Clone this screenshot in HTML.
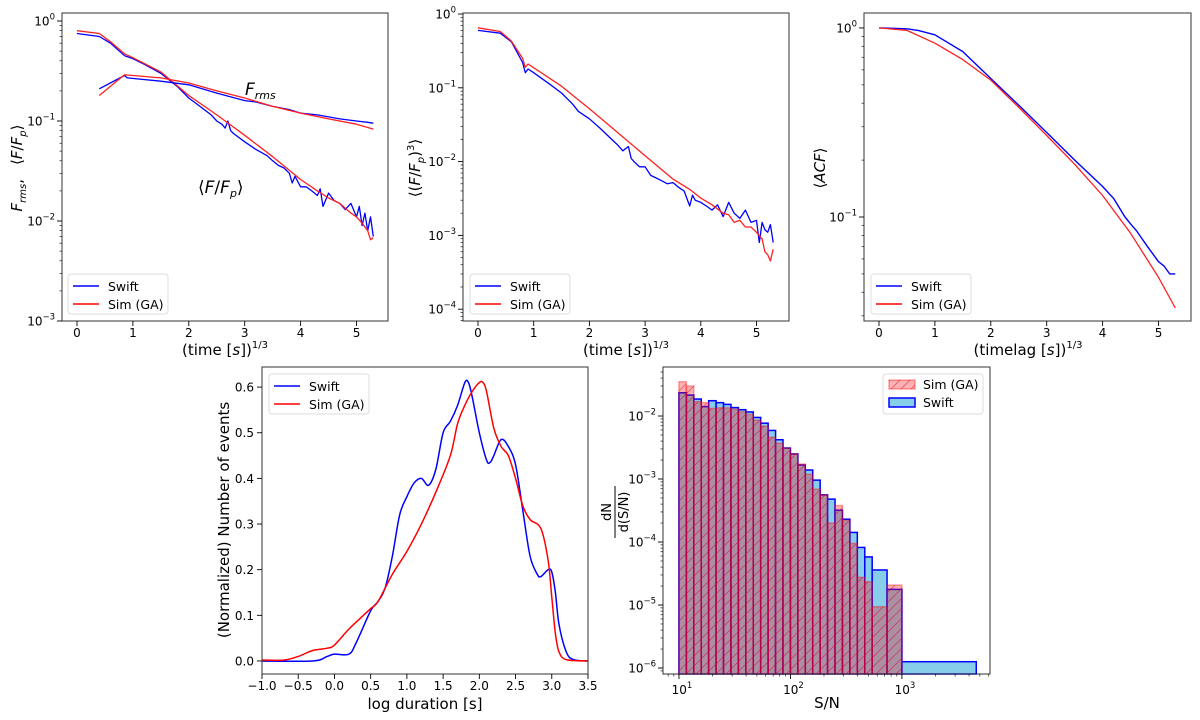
<!DOCTYPE html>
<html><head><meta charset="utf-8"><style>
html,body{margin:0;padding:0;background:#fff;}
svg{display:block;font-family:"DejaVu Sans","Liberation Sans",sans-serif;}
</style></head><body>
<svg id="fig" width="1200" height="720" viewBox="0 0 1200 720">
<defs>
<pattern id="hatch" width="10" height="10" patternUnits="userSpaceOnUse">
<path d="M-2,2 L2,-2 M0,10 L10,0 M8,12 L12,8" stroke="rgba(220,0,40,0.55)" stroke-width="0.8"/>
</pattern>
</defs>
</svg>
<script>
// ---------- Panel 1 data ----------
const p1SwiftX=[0,0.4,0.6,0.85,1.0,1.2,1.5,1.8,2.0,2.2,2.4,2.5,2.6,2.65,2.7,2.75,2.8,3.0,3.2,3.4,3.5,3.6,3.7,3.8,3.85,3.9,4.0,4.1,4.2,4.3,4.35,4.4,4.5,4.6,4.7,4.8,4.9,5.0,5.05,5.1,5.15,5.2,5.25,5.3];
const p1SwiftY=[.75,.70,.60,.45,.42,.37,.30,.22,.17,.14,.115,.10,.092,.085,.10,.08,.075,.062,.052,.045,.04,.036,.034,.03,.024,.028,.022,.022,.02,.018,.021,.014,.019,.016,.015,.013,.015,.011,.014,.009,.012,.008,.011,.007];
const p1SimX=[0,0.4,0.6,0.85,1.0,1.5,2.0,2.5,3.0,3.5,4.0,4.3,4.5,4.7,4.9,5.0,5.1,5.2,5.25,5.3];
const p1SimY=[.80,.75,.62,.47,.43,.31,.18,.115,.072,.044,.026,.02,.017,.015,.012,.011,.0095,.008,.0065,.0068];
const p1RmsSwiftX=[0.4,0.85,0.9,1.5,2.0,2.5,3.0,3.2,3.5,3.8,4.0,4.3,4.5,4.7,5.0,5.2,5.3];
const p1RmsSwiftY=[.21,.285,.27,.25,.23,.19,.16,.155,.14,.13,.12,.115,.11,.105,.10,.097,.095];
const p1RmsSimX=[0.4,0.85,1.0,1.5,2.0,2.5,3.0,3.5,4.0,4.5,5.0,5.3];
const p1RmsSimY=[.18,.29,.285,.27,.24,.20,.17,.14,.12,.105,.093,.083];
// ---------- Panel 2 data ----------
const p2SwiftX=[0,0.4,0.6,0.8,0.85,0.9,1.0,1.3,1.5,1.7,1.8,2.0,2.2,2.4,2.5,2.6,2.7,2.75,2.8,2.9,3.0,3.1,3.2,3.3,3.4,3.5,3.6,3.7,3.8,3.85,3.9,4.0,4.1,4.2,4.3,4.4,4.5,4.6,4.7,4.8,4.9,5.0,5.05,5.1,5.15,5.2,5.25,5.3];
const p2SwiftY=[.6,.55,.42,.22,.16,.18,.16,.11,.085,.06,.048,.038,.028,.02,.017,.014,.016,.011,.01,.0085,.0085,.0065,.006,.0055,.005,.0052,.0045,.004,.0025,.0035,.003,.0028,.0025,.0022,.0026,.0018,.0028,.002,.0017,.0022,.0015,.0016,.0008,.0015,.0012,.0011,.0014,.0008];
const p2SimX=[0,0.4,0.6,0.8,0.85,0.9,1.5,2.0,2.5,3.0,3.5,3.8,4.0,4.2,4.4,4.5,4.6,4.7,4.8,4.9,5.0,5.1,5.15,5.2,5.25,5.3];
const p2SimY=[.65,.58,.43,.25,.19,.21,.105,.052,.025,.012,.0058,.0042,.0032,.0026,.002,.0019,.0015,.0016,.0013,.0013,.0011,.0009,.0006,.00055,.00045,.00065];
// ---------- Panel 3 data ----------
const p3SwiftX=[0,0.5,0.7,1.0,1.5,2.0,2.5,3.0,3.5,4.0,4.2,4.4,4.5,4.6,4.8,5.0,5.1,5.2,5.3];
const p3SwiftY=[1,.99,.97,.92,.75,.54,.39,.28,.20,.145,.125,.10,.092,.085,.07,.058,.055,.05,.05];
const p3SimX=[0,0.5,1.0,1.5,2.0,2.5,3.0,3.5,4.0,4.5,5.0,5.3];
const p3SimY=[1,.97,.83,.68,.53,.38,.27,.19,.13,.082,.048,.033];
// ---------- Panel 4 data ----------
const p4SwiftX=[-1,-0.3,-0.1,0,0.2,0.3,0.5,0.6,0.7,0.8,0.9,1.0,1.1,1.2,1.3,1.4,1.5,1.6,1.7,1.8,1.85,1.9,2.0,2.1,2.15,2.2,2.3,2.4,2.5,2.6,2.7,2.8,2.85,2.95,3.0,3.05,3.1,3.2,3.3,3.5];
const p4SwiftY=[0,0,0.01,0.015,0.015,0.04,0.11,0.13,0.16,0.23,0.32,0.36,0.39,0.40,0.385,0.42,0.50,0.525,0.56,0.61,0.61,0.58,0.50,0.44,0.435,0.45,0.485,0.47,0.43,0.33,0.23,0.19,0.185,0.20,0.195,0.15,0.08,0.02,0.003,0];
const p4SimX=[-1,-0.7,-0.5,-0.3,-0.1,0,0.2,0.4,0.5,0.6,0.8,1.0,1.2,1.4,1.6,1.7,1.8,1.9,2.0,2.05,2.1,2.2,2.3,2.4,2.5,2.6,2.7,2.85,2.95,3.0,3.05,3.1,3.2,3.5];
const p4SimY=[0.002,0.002,0.01,0.023,0.028,0.035,0.07,0.10,0.115,0.13,0.19,0.24,0.30,0.37,0.45,0.52,0.56,0.59,0.61,0.61,0.59,0.51,0.47,0.45,0.40,0.34,0.31,0.29,0.22,0.14,0.06,0.02,0.003,0];
// ---------- Panel 5 data ----------
const p5BinEdgesLog=[1,1.0667,1.1333,1.2,1.2667,1.3333,1.4,1.4667,1.5333,1.6,1.6667,1.7333,1.8,1.8667,1.9333,2,2.0667,2.1333,2.2,2.2667,2.3333,2.4,2.4667,2.5333,2.6,2.6667,2.7333,2.8667,3.0,3.667];
const p5Swift=[0.0234,0.0215,0.0186,0.0141,0.0175,0.0163,0.0153,0.0136,0.0126,0.0116,0.0095,0.0077,0.0059,0.0042,0.0031,0.0025,0.00167,0.00139,0.00096,0.00056,0.00048,0.00032,0.00023,0.000142,0.000082,0.000058,0.000036,0.0000177,0.00000126];
const p5Sim=[0.035,0.030,0.0169,0.0163,0.0132,0.0135,0.0135,0.0128,0.0117,0.0106,0.0086,0.0069,0.0046,0.0037,0.0031,0.0025,0.00173,0.00119,0.00069,0.00056,0.0002,0.00038,0.00022,0.000095,0.0000275,0.0000234,0.0000094,0.0000207];

const NS='http://www.w3.org/2000/svg';
const fig=document.getElementById('fig');
function mk(tag,attrs,parent){const e=document.createElementNS(NS,tag);for(const k in attrs)e.setAttribute(k,attrs[k]);(parent||fig).appendChild(e);return e;}
function makeAxis(c){
  const a=Object.assign({},c);
  a.sx=v=>{const t=a.xlog?Math.log10(v):v;return a.x0+(t-a.xmin)/(a.xmax-a.xmin)*(a.x1-a.x0);};
  a.sy=v=>{const t=a.ylog?Math.log10(v):v;return a.y1-(t-a.ymin)/(a.ymax-a.ymin)*(a.y1-a.y0);};
  a.g=mk('g',{});
  
  
  return a;
}
function frame(a){
  const r=mk('rect',{x:a.x0,y:a.y0,width:a.x1-a.x0,height:a.y1-a.y0,fill:'none',stroke:'#333','stroke-width':1},a.g);
  
  
}
function powLabel(parent,x,y,exp,anchor,name){
  const t=mk('text',{x:x,y:y,'font-size':12,'text-anchor':anchor,fill:'#000'},parent);
  
  
  const b=mk('tspan',{},t);b.textContent='10';
  const s=mk('tspan',{dy:-6,'font-size':8.5},t);s.textContent=(exp<0?'\u2212':'')+Math.abs(exp);
  return t;
}
function xTicksLin(a,vals,labels){
  vals.forEach((v,i)=>{const x=a.sx(v);
    const l=mk('line',{x1:x,x2:x,y1:a.y1,y2:a.y1+5,stroke:'#000','stroke-width':0.9},a.g);
    
    
    const t=mk('text',{x:x,y:a.y1+16,'font-size':12,'text-anchor':'middle'},a.g);
    
    
    t.textContent=labels[i];});
}
function yTicksLin(a,vals,labels){
  vals.forEach((v,i)=>{const y=a.sy(v);
    const l=mk('line',{x1:a.x0-5,x2:a.x0,y1:y,y2:y,stroke:'#000','stroke-width':0.9},a.g);
    
    
    const t=mk('text',{x:a.x0-8,y:y+4.5,'font-size':12,'text-anchor':'end'},a.g);
    
    
    t.textContent=labels[i];});
}
function yTicksLog(a,exps){
  const lo=Math.floor(a.ymin),hi=Math.ceil(a.ymax);
  for(let e=lo;e<=hi;e++){for(let m=1;m<10;m++){const lv=e+Math.log10(m);if(lv<a.ymin||lv>a.ymax)continue;const y=a.sy(Math.pow(10,lv));
    const l=mk('line',{x1:a.x0-(m==1?5:2.5),x2:a.x0,y1:y,y2:y,stroke:'#000','stroke-width':m==1?0.9:0.6},a.g);
    
    }}
  exps.forEach(e=>{powLabel(a.g,a.x0-7,a.sy(Math.pow(10,e))+4.5,e,'end','y-tick-label');});
}
function xTicksLog(a,exps){
  const lo=Math.floor(a.xmin),hi=Math.ceil(a.xmax);
  for(let e=lo;e<=hi;e++){for(let m=1;m<10;m++){const lv=e+Math.log10(m);if(lv<a.xmin||lv>a.xmax)continue;const x=a.sx(Math.pow(10,lv));
    const l=mk('line',{x1:x,x2:x,y1:a.y1,y2:a.y1+(m==1?5:2.5),stroke:'#000','stroke-width':m==1?0.9:0.6},a.g);
    
    }}
  exps.forEach(e=>{powLabel(a.g,a.sx(Math.pow(10,e))+3,a.y1+20,e,'middle','x-tick-label');});
}
function polyline(a,xs,ys,color,name,w){
  const pts=xs.map((x,i)=>a.sx(x).toFixed(1)+','+a.sy(ys[i]).toFixed(1)).join(' ');
  const p=mk('polyline',{points:pts,fill:'none',stroke:color,'stroke-width':w||1.3,'stroke-linejoin':'round'},a.g);
  
  
}
function smooth(a,xs,ys,color,name){
  const P=xs.map((x,i)=>[a.sx(x),a.sy(ys[i])]);
  let d='M'+P[0][0]+','+P[0][1];
  for(let i=0;i<P.length-1;i++){const p0=P[Math.max(0,i-1)],p1=P[i],p2=P[i+1],p3=P[Math.min(P.length-1,i+2)];
    const c1=[p1[0]+(p2[0]-p0[0])/6,p1[1]+(p2[1]-p0[1])/6],c2=[p2[0]-(p3[0]-p1[0])/6,p2[1]-(p3[1]-p1[1])/6];
    d+=' C'+c1.join(',')+' '+c2.join(',')+' '+p2.join(',');}
  const p=mk('path',{d:d,fill:'none',stroke:color,'stroke-width':1.5},a.g);
  
  
}
function lineLegend(a,x,y,name){
  const g=mk('g',{},a.g);
  
  
  mk('rect',{x:x,y:y,width:100,height:40,rx:3,fill:'#fff',stroke:'#ddd','stroke-width':1},g);
  [['Swift','#0000ff'],['Sim (GA)','#ff0000']].forEach((s,i)=>{
    const yy=y+12+i*18;
    const l=mk('line',{x1:x+5,x2:x+31,y1:yy,y2:yy,stroke:s[1],'stroke-width':1.6},g);
    
    
    const t=mk('text',{x:x+40,y:yy+5,'font-size':12.5},g);
    
    
    t.textContent=s[0];});
}
function rotText(x,y,html,name,size){
  const t=mk('text',{x:0,y:0,'font-size':size||15,'text-anchor':'middle',transform:'translate('+x+','+y+') rotate(-90)'});
  
  
  t.innerHTML=html;return t;
}
function text(x,y,html,name,size,anchor){
  const t=mk('text',{x:x,y:y,'font-size':size||15,'text-anchor':anchor||'middle'});
  
  
  t.innerHTML=html;return t;
}
const tlbl='(time [<tspan font-style="italic">s</tspan>])<tspan dy="-7" font-size="10">1/3</tspan>';

// Panel 1
const a1=makeAxis({name:'panel-flux',x0:62,x1:388,y0:13,y1:321,xmin:-0.268,xmax:5.563,ymin:-3.0,ymax:0.08,ylog:true});
polyline(a1,p1SwiftX,p1SwiftY,'#0000ff','swift-mean-flux');
polyline(a1,p1SimX,p1SimY,'#ff2020','sim-mean-flux');
polyline(a1,p1RmsSwiftX,p1RmsSwiftY,'#0000ff','swift-frms');
polyline(a1,p1RmsSimX,p1RmsSimY,'#ff2020','sim-frms');
frame(a1);
xTicksLin(a1,[0,1,2,3,4,5],['0','1','2','3','4','5']);
yTicksLog(a1,[0,-1,-2,-3]);
lineLegend(a1,68,274,'legend-panel-flux');
text(245,95,'<tspan font-style="italic">F</tspan><tspan font-style="italic" font-size="11" dy="4">rms</tspan>','annotation-frms',17,'start');
text(198,193,'⟨<tspan font-style="italic">F</tspan>/<tspan font-style="italic">F</tspan><tspan font-style="italic" font-size="11" dy="4">p</tspan><tspan dy="-4">⟩</tspan>','annotation-mean-flux',17,'start');
rotText(22,168,'<tspan font-style="italic">F</tspan><tspan font-style="italic" font-size="10" dy="4">rms</tspan><tspan dy="-4">,</tspan><tspan dx="14">⟨</tspan><tspan font-style="italic">F</tspan>/<tspan font-style="italic">F</tspan><tspan font-style="italic" font-size="10" dy="4">p</tspan><tspan dy="-4">⟩</tspan>','y-axis-title-flux',15);
text(225,355,tlbl,'x-axis-title-flux',15);

// Panel 2
const a2=makeAxis({name:'panel-cube-flux',x0:463,x1:789,y0:13,y1:321,xmin:-0.269,xmax:5.583,ymin:-4.16,ymax:0.0136,ylog:true});
polyline(a2,p2SwiftX,p2SwiftY,'#0000ff','swift-cube-flux');
polyline(a2,p2SimX,p2SimY,'#ff2020','sim-cube-flux');
frame(a2);
xTicksLin(a2,[0,1,2,3,4,5],['0','1','2','3','4','5']);
yTicksLog(a2,[0,-1,-2,-3,-4]);
lineLegend(a2,470,274,'legend-panel-cube-flux');
rotText(420,168,'⟨(<tspan font-style="italic">F</tspan>/<tspan font-style="italic">F</tspan><tspan font-style="italic" font-size="10" dy="4">p</tspan><tspan dy="-4">)</tspan><tspan font-size="10" dy="-6">3</tspan><tspan dy="6">⟩</tspan>','y-axis-title-cube-flux',15);
text(626,355,tlbl,'x-axis-title-cube-flux',15);

// Panel 3
const a3=makeAxis({name:'panel-acf',x0:864,x1:1191,y0:13,y1:321,xmin:-0.268,xmax:5.581,ymin:-1.55,ymax:0.079,ylog:true});
polyline(a3,p3SwiftX,p3SwiftY,'#0000ff','swift-acf',1.4);
polyline(a3,p3SimX,p3SimY,'#ff2020','sim-acf');
frame(a3);
xTicksLin(a3,[0,1,2,3,4,5],['0','1','2','3','4','5']);
yTicksLog(a3,[0,-1]);
lineLegend(a3,871,274,'legend-panel-acf');
rotText(825,168,'⟨<tspan font-style="italic">ACF</tspan>⟩','y-axis-title-acf',15);
text(1028,355,'(timelag [<tspan font-style="italic">s</tspan>])<tspan dy="-7" font-size="10">1/3</tspan>','x-axis-title-acf',15);

// Panel 4
const a4=makeAxis({name:'panel-duration',x0:262,x1:588,y0:367,y1:674,xmin:-1,xmax:3.5,ymin:-0.0285,ymax:0.644});
smooth(a4,p4SwiftX,p4SwiftY,'#0000ff','swift-duration-kde');
smooth(a4,p4SimX,p4SimY,'#ff0000','sim-duration-kde');
frame(a4);
xTicksLin(a4,[-1,-0.5,0,0.5,1,1.5,2,2.5,3,3.5],['\u22121.0','\u22120.5','0.0','0.5','1.0','1.5','2.0','2.5','3.0','3.5']);
yTicksLin(a4,[0,0.1,0.2,0.3,0.4,0.5,0.6],['0.0','0.1','0.2','0.3','0.4','0.5','0.6']);
lineLegend(a4,269,374,'legend-panel-duration');
rotText(229,520,'(Normalized) Number of events','y-axis-title-duration',15);
text(425,709,'log duration [s]','x-axis-title-duration',15);

// Panel 5
const a5=makeAxis({name:'panel-snr-hist',x0:663,x1:990,y0:367,y1:674,xmin:0.857,xmax:3.79,ymin:-6.095,ymax:-1.222,xlog:true,ylog:true});
p5Swift.forEach((v,i)=>{const xa=a5.sx(Math.pow(10,p5BinEdgesLog[i])),xb=a5.sx(Math.pow(10,p5BinEdgesLog[i+1])),y=a5.sy(v);
  const r=mk('rect',{x:xa,y:y,width:xb-xa,height:a5.y1-y,fill:'#87ceeb',stroke:'#0000ff','stroke-width':1.5},a5.g);
  
  });
p5Sim.forEach((v,i)=>{const xa=a5.sx(Math.pow(10,p5BinEdgesLog[i])),xb=a5.sx(Math.pow(10,p5BinEdgesLog[i+1])),y=a5.sy(v);
  const r=mk('rect',{x:xa,y:y,width:xb-xa,height:a5.y1-y,fill:'rgba(255,0,0,0.3)',stroke:'rgba(255,0,0,0.35)','stroke-width':1.5},a5.g);
  
  
  const h=mk('rect',{x:xa,y:y,width:xb-xa,height:a5.y1-y,fill:'url(#hatch)'},a5.g);
  
  });
frame(a5);
xTicksLog(a5,[1,2,3]);
yTicksLog(a5,[-2,-3,-4,-5,-6]);
(function(){const g=mk('g',{},a5.g);
  
  
  mk('rect',{x:883,y:374,width:100,height:40,rx:3,fill:'#fff',stroke:'#ddd'},g);
  mk('rect',{x:889,y:380,width:26,height:9,fill:'rgba(255,0,0,0.3)',stroke:'rgba(255,0,0,0.35)','stroke-width':1.5},g);
  mk('rect',{x:889,y:380,width:26,height:9,fill:'url(#hatch)'},g);
  mk('rect',{x:889,y:398,width:26,height:9,fill:'#87ceeb',stroke:'#0000ff','stroke-width':1.5},g);
  const t1=mk('text',{x:923,y:389,'font-size':12.5},g);
  
  
  t1.textContent='Sim (GA)';
  const t2=mk('text',{x:923,y:407,'font-size':12.5},g);
  
  
  t2.textContent='Swift';})();
text(827,708,'S/N','x-axis-title-snr',15);
(function(){const g=mk('g',{transform:'translate(614,512) rotate(-90)'});
  
  
  const t1=mk('text',{x:0,y:-3,'font-size':13,'text-anchor':'middle'},g);t1.textContent='dN';
  mk('line',{x1:-26,x2:26,y1:1,y2:1,stroke:'#000','stroke-width':1},g);
  const t2=mk('text',{x:0,y:14,'font-size':13,'text-anchor':'middle'},g);t2.textContent='d(S/N)';})();
</script>
</body></html>
